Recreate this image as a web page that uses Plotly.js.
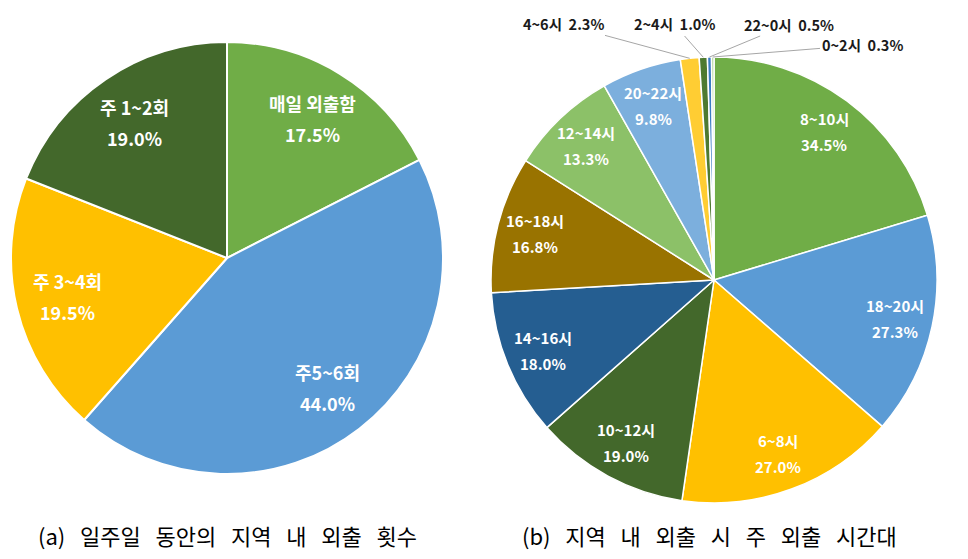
<!DOCTYPE html>
<html>
<head>
<meta charset="utf-8">
<script src="https://cdn.plot.ly/plotly-3.0.1.min.js"></script>
<style>
  html, body { margin: 0; padding: 0; background: #fff; }
  #chart { width: 968px; height: 559px; }
</style>
</head>
<body>
<div id="chart"></div>
<script>
// (a) weekly outing frequency
var freqLabels = ['매일 외출함', '주5~6회', '주 3~4회', '주 1~2회'];
var freqValues = [17.5, 44.0, 19.5, 19.0];
var freqColors = ['#70AD47', '#5B9BD5', '#FFC000', '#43682B'];

// (b) main outing time (multiple response)
var timeLabels = ['8~10시', '18~20시', '6~8시', '10~12시', '14~16시', '16~18시',
                  '12~14시', '20~22시', '4~6시', '2~4시', '22~0시', '0~2시'];
var timeValues = [34.5, 27.3, 27.0, 19.0, 18.0, 16.8, 13.3, 9.8, 2.3, 1.0, 0.5, 0.3];
var timeColors = ['#70AD47', '#5B9BD5', '#FFC000', '#43682B', '#255E91', '#997300',
                  '#8CC168', '#7CAFDD', '#FFCD33', '#4E7A31', '#3A7CC4', '#A9D18E'];

var captions = ['(a) 일주일 동안의 지역 내 외출 횟수', '(b) 지역 내 외출 시 주 외출 시간대'];

var W = 968, H = 559;
var FONT = '"Noto Sans CJK KR", "Noto Sans", sans-serif';

// pie geometry in pixels (center x, center y, radius)
var pieA = {cx: 227, cy: 258, r: 216};
var pieB = {cx: 714, cy: 280, r: 223};

function domainOf(p) {
  return {
    x: [(p.cx - p.r) / W, (p.cx + p.r) / W],
    y: [1 - (p.cy + p.r) / H, 1 - (p.cy - p.r) / H]
  };
}

var traces = [
  {
    type: 'pie', labels: freqLabels, values: freqValues, sort: false,
    direction: 'clockwise', rotation: 0, textinfo: 'none', hoverinfo: 'label+value',
    marker: {colors: freqColors, line: {color: '#ffffff', width: 2}},
    domain: domainOf(pieA), showlegend: false
  },
  {
    type: 'pie', labels: timeLabels, values: timeValues, sort: false,
    direction: 'clockwise', rotation: 0, textinfo: 'none', hoverinfo: 'label+value',
    marker: {colors: timeColors, line: {color: '#ffffff', width: 1.5}},
    domain: domainOf(pieB), showlegend: false
  }
];

var annotations = [];

// mid angles (deg, clockwise from 12 o'clock) from the data
function midAngles(values) {
  var total = values.reduce(function (a, b) { return a + b; }, 0);
  var cum = 0, out = [];
  values.forEach(function (v) {
    out.push((cum + v / 2) / total * 360);
    cum += v;
  });
  return out;
}

function insideLabels(labels, values, p, k, size, gap) {
  var ang = midAngles(values);
  labels.forEach(function (lab, i) {
    if (values[i] < 5) return;
    var a = ang[i] * Math.PI / 180;
    var px = p.cx + k * p.r * Math.sin(a);
    var py = p.cy - k * p.r * Math.cos(a);
    [[lab, -gap / 2], [values[i].toFixed(1) + '%', gap / 2]].forEach(function (t) {
      annotations.push({
        xref: 'paper', yref: 'paper', x: px / W, y: 1 - (py + t[1]) / H,
        text: t[0], showarrow: false, xanchor: 'center', yanchor: 'middle',
        font: {family: FONT, size: size, color: '#ffffff', weight: 700}
      });
    });
  });
}

insideLabels(freqLabels, freqValues, pieA, 0.76, 18, 31);
insideLabels(timeLabels, timeValues, pieB, 0.83, 15, 26);

// small slices: outside labels with leader lines
var outsidePos = {'4~6시': [563, 24], '2~4시': [674, 24], '22~0시': [789, 24], '0~2시': [862, 45]};
var angB = midAngles(timeValues);
timeLabels.forEach(function (lab, i) {
  if (timeValues[i] >= 5) return;
  var a = angB[i] * Math.PI / 180;
  var tx = pieB.cx + pieB.r * Math.sin(a);
  var ty = pieB.cy - pieB.r * Math.cos(a);
  var pos = outsidePos[lab];
  annotations.push({
    xref: 'paper', yref: 'paper', x: tx / W, y: 1 - ty / H,
    ax: pos[0] - tx, ay: pos[1] - ty, axref: 'pixel', ayref: 'pixel',
    text: lab + '\u00a0\u00a0' + timeValues[i].toFixed(1) + '%',
    showarrow: true, arrowhead: 0, arrowwidth: 1, arrowcolor: '#A6A6A6', standoff: 0,
    font: {family: FONT, size: 14.5, color: '#1a1a1a', weight: 700}
  });
});

// captions
[[captions[0], 227], [captions[1], 709]].forEach(function (c) {
  annotations.push({
    xref: 'paper', yref: 'paper', x: c[1] / W, y: 1 - 535 / H,
    text: c[0].split(' ').join('\u00a0\u00a0\u00a0'), showarrow: false,
    xanchor: 'center', yanchor: 'middle',
    font: {family: FONT, size: 22, color: '#000000'}
  });
});

var layout = {
  width: W, height: H,
  margin: {l: 0, r: 0, t: 0, b: 0},
  paper_bgcolor: '#ffffff',
  showlegend: false,
  annotations: annotations
};

Plotly.newPlot('chart', traces, layout, {displayModeBar: false, staticPlot: true});
</script>
</body>
</html>
